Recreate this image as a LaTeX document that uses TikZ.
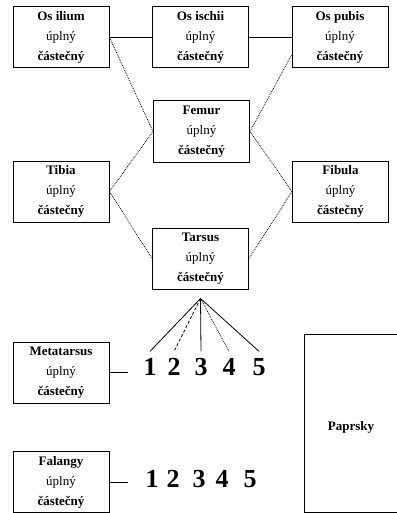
\documentclass[tikz,border=0pt]{standalone}
\usepackage{fontspec}
\setmainfont{Liberation Serif}
\usetikzlibrary{positioning}
\tikzset{
    bone/.style={draw, rectangle, line width=1pt, minimum height=61pt, minimum width=96pt, inner sep=0pt, align=center, font=\fontsize{13}{20}\selectfont},
    num/.style={inner sep=0pt, outer sep=7pt, font=\fontsize{26}{26}\selectfont\bfseries},
    link/.style={line width=0.8pt},
    joint/.style={line width=0.8pt, densely dotted}
}
\newcommand{\kost}[1]{\textbf{#1}\\úplný\\\textbf{částečný}}

\begin{document}
\begin{tikzpicture}[x=1pt, y=-1pt]
    \useasboundingbox (0,0) rectangle (396,513);

    \node[bone] (ilium) at (61,37.5) {\kost{Os ilium}};
    \node[bone] (ischii) at (200.5,37.5) {\kost{Os ischii}};
    \node[bone] (pubis) at (340,37.5) {\kost{Os pubis}};
    \node[bone] (femur) at (201.5,131.5) {\kost{Femur}};
    \node[bone] (tibia) at (61,191.5) {\kost{Tibia}};
    \node[bone] (fibula) at (340.5,191.5) {\kost{Fibula}};
    \node[bone] (tarsus) at (200.5,258.5) {\kost{Tarsus}};
    \node[bone] (metatarsus) at (61,372.5) {\kost{Metatarsus}};
    \node[bone] (falangy) at (61,482) {\kost{Falangy}};
    \node[draw, line width=1pt, minimum width=100pt, minimum height=178pt] (paprsky) at (354,423) {};
    \node[font=\fontsize{13}{13}\selectfont\bfseries] (paprskytxt) at (351,427) {Paprsky};

    \draw[link] (ilium.east) -- (ischii.west);
    \draw[link] (ischii.east) -- (pubis.west);
    \draw[joint] (ilium.east) -- (femur.west);
    \draw[joint] (femur.east) -- (pubis.200);
    \draw[joint] (tibia.east) -- (femur.west);
    \draw[joint] (tibia.east) -- (tarsus.west);
    \draw[joint] (fibula.west) -- (femur.east);
    \draw[joint] (fibula.west) -- (tarsus.east);

    % metatarsy
    \node[num] (m1) at (150,367) {1};
    \node[num] (m2) at (174,367) {2};
    \node[num] (m3) at (201,367) {3};
    \node[num] (m4) at (229,367) {4};
    \node[num] (m5) at (259,367) {5};
    \coordinate (fan) at ([yshift=-9pt]tarsus.south);
    \draw[link] (fan) -- (m1.north);
    \draw[link, densely dashed] (fan) -- (m2.north);
    \draw[link] (fan) -- (m3.north);
    \draw[link, densely dotted] (fan) -- (m4.north);
    \draw[link] (fan) -- (m5.north);
    \coordinate (mtend) at (128,372.5);
    \draw[link] (metatarsus.east) -- (mtend);

    % falangy
    \node[num] (f1) at (152,479) {1};
    \node[num] (f2) at (173,479) {2};
    \node[num] (f3) at (199,479) {3};
    \node[num] (f4) at (222,479) {4};
    \node[num] (f5) at (250,479) {5};
    \coordinate (flend) at (128,482);
    \draw[link] (falangy.east) -- (flend);
\end{tikzpicture}
\end{document}
